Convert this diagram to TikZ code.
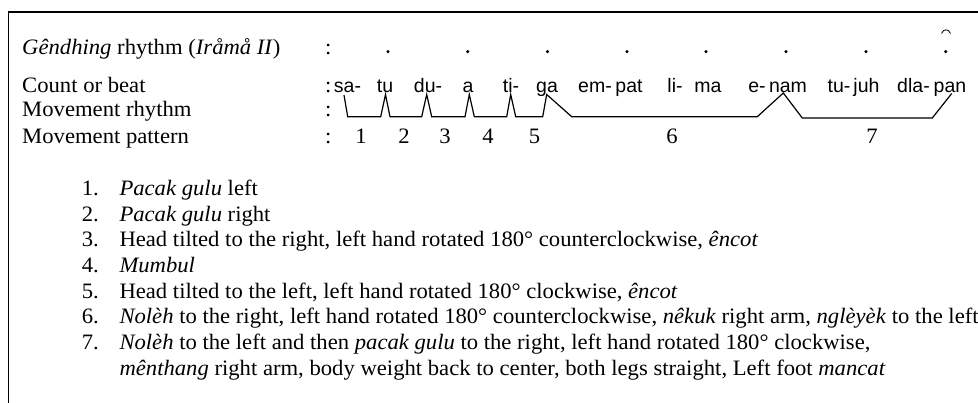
\documentclass[tikz,border=0pt]{standalone}
\usepackage{fontspec}
\setmainfont{Liberation Serif}[FakeStretch=1.03]
\setsansfont{Liberation Sans}
\begin{document}
\begin{tikzpicture}[x=1pt,y=-1pt,
  serif/.style={anchor=base west, inner sep=0pt, font=\fontsize{22}{24}\selectfont},
  sans/.style={anchor=base, inner sep=0pt, font=\sffamily\fontsize{19.5}{24}\selectfont},
  num/.style={anchor=base, inner sep=0pt, font=\fontsize{22}{24}\selectfont},
  beatdot/.style={circle, fill=black, inner sep=0pt, minimum size=3.4pt},
  rline/.style={line width=1.2pt, line join=miter},
  frame/.style={line width=1.6pt}]
\useasboundingbox (0,0) rectangle (978,403);
\draw[frame] (8.3,403) -- (8.3,12.3) -- (978,12.3);

% row labels
\node[serif] (h1) at (22,55) {\textit{Gêndhing} rhythm (\textit{Iråmå II})};
\node[serif] (h2) at (22,93) {Count or beat};
\node[serif] (h3) at (22,117) {Movement rhythm};
\node[serif] (h4) at (22,144) {Movement pattern};
\node[serif] (c1) at (325,55) {:};
\node[serif] (c2) at (325,93) {:};
\node[serif] (c3) at (325,117) {:};
\node[serif] (c4) at (325,144) {:};

% gendhing dots
\foreach \i/\x in {1/388,2/467.7,3/547.5,4/627,5/706,6/786,7/866,8/945.7}
  \node[beatdot] (d\i) at (\x,51.6) {};
\draw[line width=0.8pt] (941.5,33.5) .. controls (943.5,28.5) and (948.5,28.5) .. (950.5,33.5);

% syllables (centred)
\foreach \n/\x/\t in {s1/347.5/sa-, s2/385/tu, s3/428/du-, s4/468/a, s5/511/ti-, s6/547/ga,
  s7/595/em-, s8/629/pat, s9/675/li-, s10/708/ma, s11/757/e-, s12/788/nam,
  s13/839/tu-, s14/866.5/juh, s15/913.5/dla-, s16/950/pan}
  \node[sans] (\n) at (\x,93) {\t};

% movement rhythm line
\draw[rline] (344,95) -- (347.7,116.7) -- (380.7,116.7) -- (385.5,94.5) -- (390,116.7)
  -- (421.7,116.7) -- (426.7,94.5) -- (431.7,116.7) -- (465,116.7) -- (469.3,94.5)
  -- (474.3,116.7) -- (506.7,116.7) -- (510.7,94.5) -- (515.7,116.7) -- (542.7,116.7)
  -- (546.7,94.5) -- (571.7,116.7) -- (757.3,116.7) -- (783.3,93) -- (802.3,118)
  -- (932.3,118) -- (951.7,93.5);

% pattern numbers
\foreach \i/\x in {1/361,2/404,3/445,4/488,5/534.5,6/672,7/872}
  \node[num] (p\i) at (\x,144) {\i};

% list
\foreach \i/\y in {1/195.5,2/221.15,3/246.8,4/272.45,5/298.1,6/323.75,7/349.4}
  \node[serif] (n\i) at (81.7,\y) {\i.};
\node[serif] (t1) at (119.3,195.5) {\textit{Pacak gulu} left};
\node[serif] (t2) at (119.3,221.15) {\textit{Pacak gulu} right};
\node[serif] (t3) at (119.3,246.8) {Head tilted to the right, left hand rotated 180° counterclockwise, \textit{êncot}};
\node[serif] (t4) at (119.3,272.45) {\textit{Mumbul}};
\node[serif] (t5) at (119.3,298.1) {Head tilted to the left, left hand rotated 180° clockwise, \textit{êncot}};
\node[serif] (t6) at (119.3,323.75) {\textit{Nolèh} to the right, left hand rotated 180° counterclockwise, \textit{nêkuk} right arm, \textit{nglèyèk} to the left};
\node[serif] (t7) at (119.3,349.4) {\textit{Nolèh} to the left and then \textit{pacak gulu} to the right, left hand rotated 180° clockwise,};
\node[serif] (t8) at (119.3,375.05) {\textit{mênthang} right arm, body weight back to center, both legs straight, Left foot \textit{mancat}};
\end{tikzpicture}
\end{document}
